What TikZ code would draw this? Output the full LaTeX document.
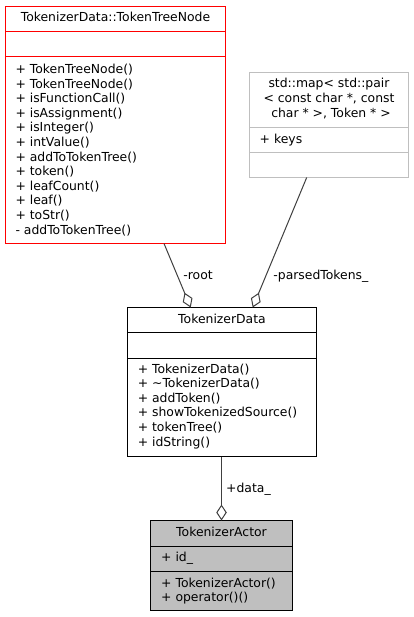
\documentclass[tikz,border=0pt]{standalone}
\usepackage{fontspec}
\setmainfont{DejaVu Sans}
\usetikzlibrary{arrows.meta}
\definecolor{edgegray}{HTML}{404040}
\definecolor{boxgray}{HTML}{BFBFBF}
\definecolor{clsred}{HTML}{FF0000}
\newcommand{\dfs}{\fontsize{12.4}{14.6}\selectfont}
\tikzset{
  cls/.style={rectangle, inner sep=0pt, outer sep=0pt, anchor=north west, line width=1pt},
  redline/.style={draw=clsred, line width=1.7pt},
  txt/.style={inner sep=0pt, anchor=base west, font=\dfs},
  hdr/.style={inner sep=0pt, anchor=base, font=\dfs},
  agg/.style={draw=edgegray, line width=1pt, -{Diamond[open, fill=white, length=16pt, width=10.5pt]}},
}
\begin{document}
\begin{tikzpicture}[x=1pt, y=-1pt]
\useasboundingbox[fill=white] (0,0) rectangle (413,617);

% TokenizerData::TokenTreeNode
\node[cls, minimum width=220pt, minimum height=237pt] (ttn) at (5.5,6.5) {};
\draw[redline] (ttn.north west) rectangle (ttn.south east);
\draw[redline] (ttn.west |- 0,31.5) -- (ttn.east |- 0,31.5);
\draw[redline] (ttn.west |- 0,56.5) -- (ttn.east |- 0,56.5);
\node[hdr] (ttnh) at (115.5,22) {TokenizerData::TokenTreeNode};
\foreach \t [count=\i from 0] in {+ TokenTreeNode(), + TokenTreeNode(), + isFunctionCall(), + isAssignment(), + isInteger(), + intValue(), + addToTokenTree(), + token(), + leafCount(), + leaf(), + toStr(), - addToTokenTree()}
  \node[txt] (ttnm\i) at (15.3, {73.5+\i*14.6}) {\t};

% std::map
\node[cls, draw=boxgray, minimum width=159pt, minimum height=105pt] (map) at (249.5,72.5) {};
\draw[boxgray, line width=1pt] (map.west |- 0,127.5) -- (map.east |- 0,127.5);
\draw[boxgray, line width=1pt] (map.west |- 0,152.5) -- (map.east |- 0,152.5);
\node[hdr] (maph1) at (329,88) {std::map< std::pair};
\node[hdr] (maph2) at (329,102.6) {< const char *, const};
\node[hdr] (maph3) at (331,117.2) {char * >, Token * >};
\node[txt] (mapa) at (259.5,143.5) {+ keys};

% TokenizerData
\node[cls, draw=black, minimum width=189pt, minimum height=149pt] (tkd) at (127.5,307.5) {};
\draw[black, line width=1pt] (tkd.west |- 0,332.5) -- (tkd.east |- 0,332.5);
\draw[black, line width=1pt] (tkd.west |- 0,358.5) -- (tkd.east |- 0,358.5);
\node[hdr] (tkdh) at (222,323.5) {TokenizerData};
\foreach \t [count=\i from 0] in {+ TokenizerData(), + \textasciitilde TokenizerData(), + addToken(), + showTokenizedSource(), + tokenTree(), + idString()}
  \node[txt] (tkdm\i) at (137.6, {373+\i*14.6}) {\t};

% TokenizerActor
\node[cls, draw=black, fill=boxgray, minimum width=142pt, minimum height=90pt] (act) at (150.5,520.5) {};
\draw[black, line width=1pt] (act.west |- 0,546.5) -- (act.east |- 0,546.5);
\draw[black, line width=1pt] (act.west |- 0,571.5) -- (act.east |- 0,571.5);
\node[hdr] (acth) at (221.5,536.5) {TokenizerActor};
\node[txt] (acta) at (161,561) {+ id\_};
\node[txt] (actm0) at (161,587) {+ TokenizerActor()};
\node[txt] (actm1) at (161,601.3) {+ operator()()};

% connectors
\coordinate (rootS) at (164,243);
\coordinate (rootE) at (190.7,307);
\coordinate (ptS) at (306.7,177);
\coordinate (ptE) at (252.7,307);
\draw[agg] (ttn.south -| rootS) -- (tkd.north -| rootE);
\draw[agg] (map.south -| ptS) -- (tkd.north -| ptE);
\draw[agg] (tkd.south -| act.north) -- (act.north);

% labels
\node[txt] (lroot) at (183.2,279.7) {-root};
\node[txt] (lpt) at (273.2,279.7) {-parsedTokens\_};
\node[txt] (ldata) at (226,492.7) {+data\_};
\end{tikzpicture}
\end{document}
